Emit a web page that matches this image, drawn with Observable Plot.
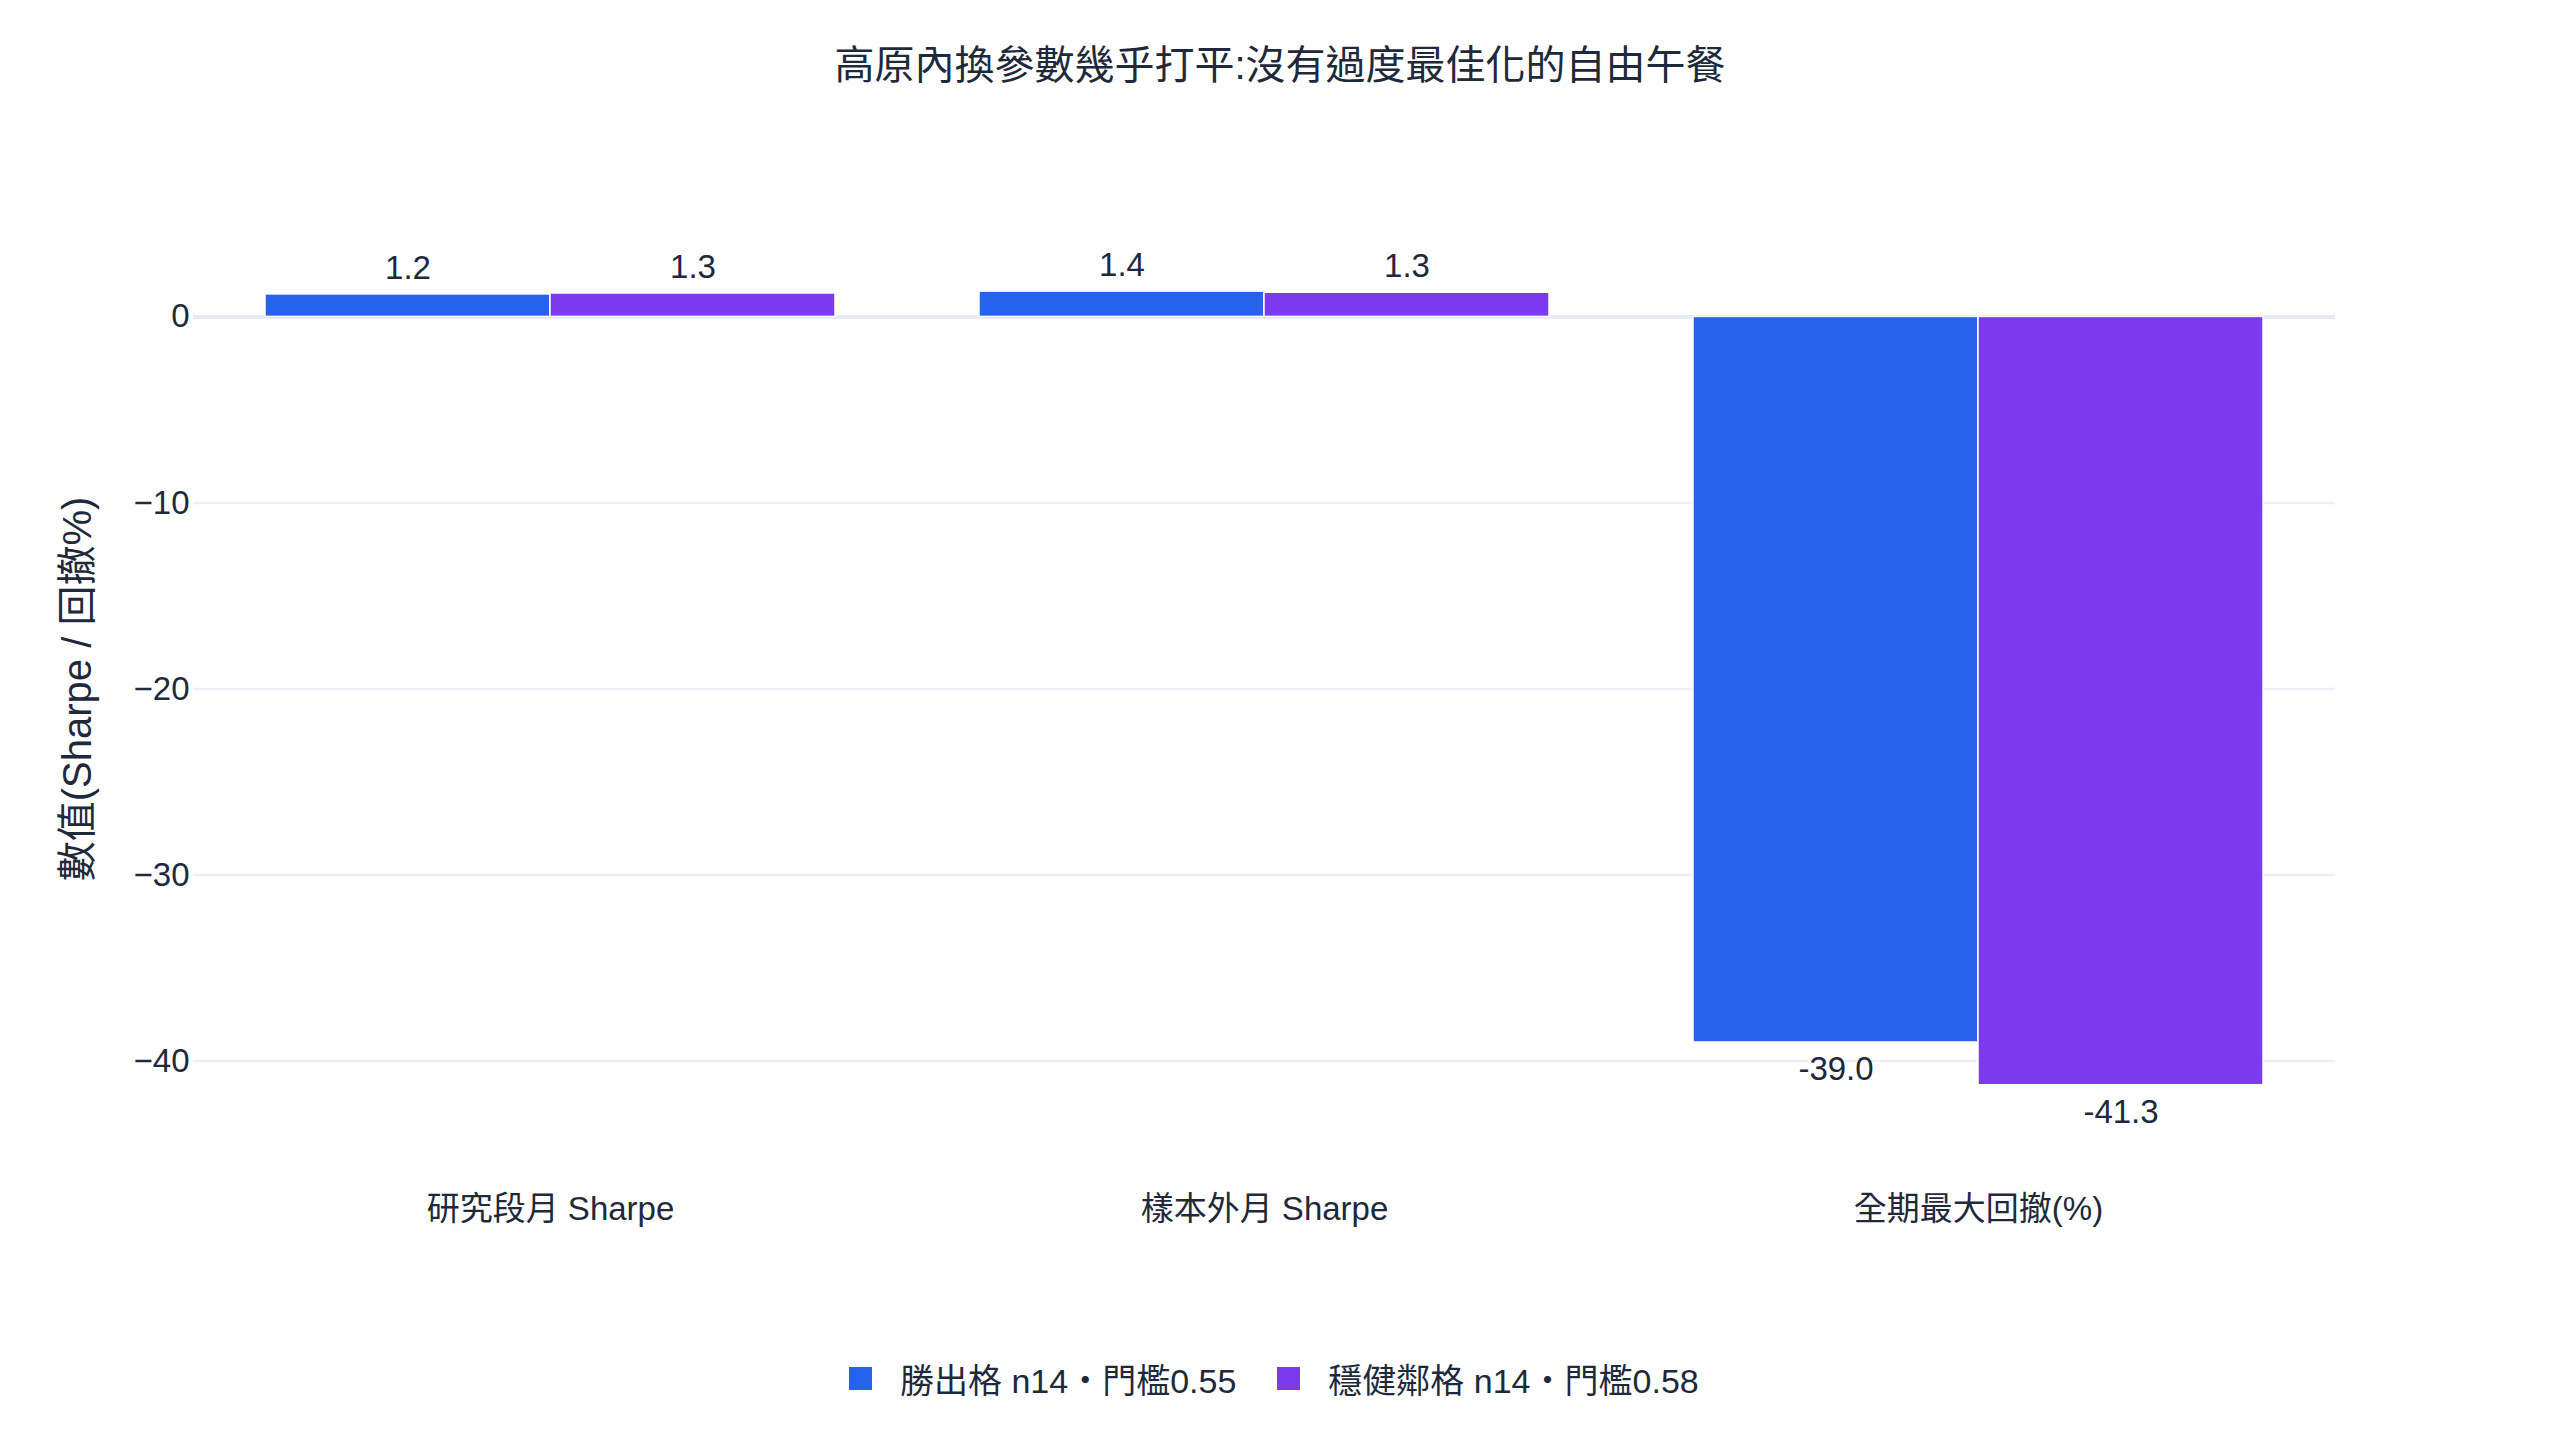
<!DOCTYPE html>
<html>
<head>
<meta charset="utf-8">
<script src="https://cdn.jsdelivr.net/npm/d3@7"></script>
<script src="https://cdn.jsdelivr.net/npm/@observablehq/plot@0.6"></script>
<style>
  html, body { margin: 0; padding: 0; background: #fff; }
  #wrap { position: relative; width: 2560px; height: 1440px; overflow: hidden;
          font-family: "Liberation Sans", "Noto Sans CJK TC", sans-serif; color: #1e293b; }
  #title { height: 130px; line-height: 130px; text-align: center; font-size: 40px; }
  #chart svg { display: block; }
  #ytitle { position: absolute; left: 74px; top: 689px; transform: translate(-50%, -50%) rotate(-90deg);
            white-space: nowrap; font-size: 40px; }
  #legend { height: 80px; display: flex; align-items: center; justify-content: flex-start;
            padding-left: 849px; font-size: 34px; }
  .item { display: flex; align-items: center; }
  .item + .item { margin-left: 41px; }
  .sw { width: 23px; height: 23px; margin-right: 28px; }
</style>
</head>
<body>
<div id="wrap">
  <div id="title"></div>
  <div id="chart"></div>
  <div id="legend"></div>
  <div id="ytitle"></div>
</div>
<script>
const titleText = "高原內換參數幾乎打平:沒有過度最佳化的自由午餐";
const yTitleText = "數值(Sharpe / 回撤%)";
const categories = ["研究段月 Sharpe", "樣本外月 Sharpe", "全期最大回撤(%)"];
const series = ["勝出格 n14・門檻0.55", "穩健鄰格 n14・門檻0.58"];
const winnerValues = [1.21, 1.36, -39.0];
const neighborValues = [1.26, 1.30, -41.3];
const colors = ["#2563EB", "#7C3AED"];
const yTicks = [0, -10, -20, -30, -40];
const yDomain = [-44, 4];

const data = [];
categories.forEach((c, i) => {
  data.push({category: c, series: series[0], value: winnerValues[i]});
  data.push({category: c, series: series[1], value: neighborValues[i]});
});
const fmt = v => v.toFixed(1);

document.getElementById("title").textContent = titleText;
document.getElementById("ytitle").textContent = yTitleText;

const chart = Plot.plot({
  width: 2560,
  height: 1208,
  marginLeft: 192,
  marginRight: 225,
  marginTop: 112,
  marginBottom: 203,
  style: {fontFamily: '"Liberation Sans", "Noto Sans CJK TC", sans-serif', fontSize: "33px", color: "#1e293b", background: "white"},
  fx: {domain: categories, padding: 0, label: null},
  x: {domain: series, paddingInner: 0, paddingOuter: 0.25, axis: null},
  y: {domain: yDomain, axis: null},
  color: {domain: series, range: colors},
  marks: [
    Plot.gridY(yTicks.filter(t => t !== 0), {stroke: "#edf0f6", strokeOpacity: 1, strokeWidth: 2.5}),
    Plot.ruleY([0], {stroke: "#e6e9f2", strokeWidth: 4}),
    Plot.barY(data, {fx: "category", x: "series", y: "value", fill: "series", stroke: "white", strokeWidth: 1.5}),
    Plot.text(data.filter(d => d.value >= 0), {fx: "category", x: "series", y: "value", text: d => fmt(d.value), dy: -26, fontSize: 33, fill: "#1e293b"}),
    Plot.text(data.filter(d => d.value < 0), {fx: "category", x: "series", y: "value", text: d => fmt(d.value), dy: 27, fontSize: 33, fill: "#1e293b"}),
    Plot.axisY({ticks: yTicks, tickSize: 0, tickPadding: 4, label: null, fontSize: 33}),
    Plot.axisFx({anchor: "bottom", tickSize: 0, tickPadding: 61, label: null, fontSize: 33})
  ]
});
document.getElementById("chart").appendChild(chart);

const legend = document.getElementById("legend");
series.forEach((s, i) => {
  const item = document.createElement("div");
  item.className = "item";
  const sw = document.createElement("div");
  sw.className = "sw";
  sw.style.background = colors[i];
  const label = document.createElement("span");
  label.textContent = s;
  item.appendChild(sw);
  item.appendChild(label);
  legend.appendChild(item);
});
</script>
</body>
</html>
